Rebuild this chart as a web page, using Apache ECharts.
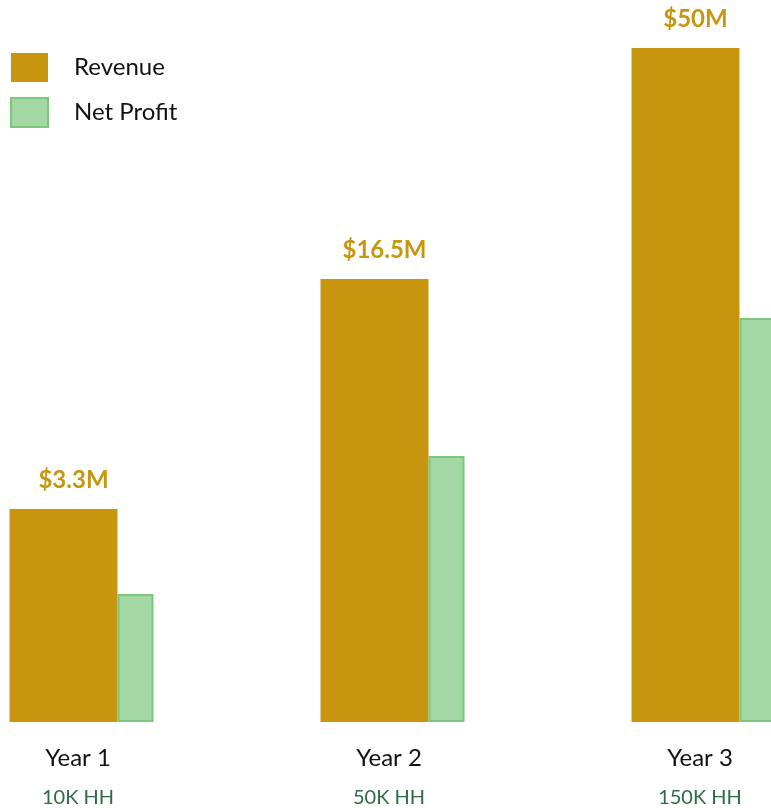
<!DOCTYPE html>
<html>
<head>
<meta charset="utf-8">
<script src="https://cdn.jsdelivr.net/npm/echarts@6/dist/echarts.min.js"></script>
<style>html,body{margin:0;padding:0;background:#fff;}#c{width:771px;height:808px;}</style>
</head>
<body>
<div id="c"></div>
<script>
// Categories and sub-labels
const years = ['Year 1', 'Year 2', 'Year 3'];
const households = ['10K HH', '50K HH', '150K HH'];
// Printed revenue labels
const revenueLabels = ['$3.3M', '$16.5M', '$50M'];
// Bar heights as drawn in the picture (not proportional to printed values)
const revenueHeights = [213, 443, 674];
const netProfitHeights = [128, 266, 404];

const FONT = 'Lato, "Open Sans", sans-serif';
const chart = echarts.init(document.getElementById('c'));
chart.setOption({
  animation: false,
  backgroundColor: '#fff',
  legend: {
    orient: 'vertical',
    left: 10,
    top: 53,
    padding: 0,
    itemWidth: 37,
    itemHeight: 29,
    itemGap: 15,
    icon: 'rect',
    textStyle: { fontFamily: FONT, fontSize: 24, color: '#111', padding: [2, 0, 0, 21] },
    data: ['Revenue', 'Net Profit']
  },
  grid: { left: -74, width: 933, top: 22, bottom: 86, containLabel: false, outerBoundsMode: 'none' },
  xAxis: {
    type: 'category',
    data: years,
    axisLine: { show: false },
    axisTick: { show: false },
    axisLabel: {
      margin: 16,
      padding: [0, 7, 0, 0],
      formatter: function (v, i) { return '{a|' + v + '}\n{b|' + households[i] + '}'; },
      rich: {
        a: { fontFamily: FONT, fontSize: 24, color: '#111', lineHeight: 40 },
        b: { fontFamily: FONT, fontSize: 20, color: '#2E6B45', lineHeight: 40 }
      }
    }
  },
  yAxis: { type: 'value', min: 0, max: 700, show: false, splitLine: { show: false } },
  series: [
    {
      name: 'Revenue',
      type: 'bar',
      data: revenueHeights,
      barWidth: 108,
      barGap: '0%',
      itemStyle: { color: '#C8960E' },
      label: {
        show: true,
        position: 'top',
        distance: 17,
        offset: [10, 0],
        formatter: function (p) { return revenueLabels[p.dataIndex]; },
        fontFamily: FONT,
        fontSize: 24,
        fontWeight: 'bold',
        color: '#C8960E'
      }
    },
    {
      name: 'Net Profit',
      type: 'bar',
      data: netProfitHeights,
      barWidth: 36,
      itemStyle: { color: '#A3D7A3', borderColor: '#7DC67D', borderWidth: 2 }
    }
  ]
});
</script>
</body>
</html>
